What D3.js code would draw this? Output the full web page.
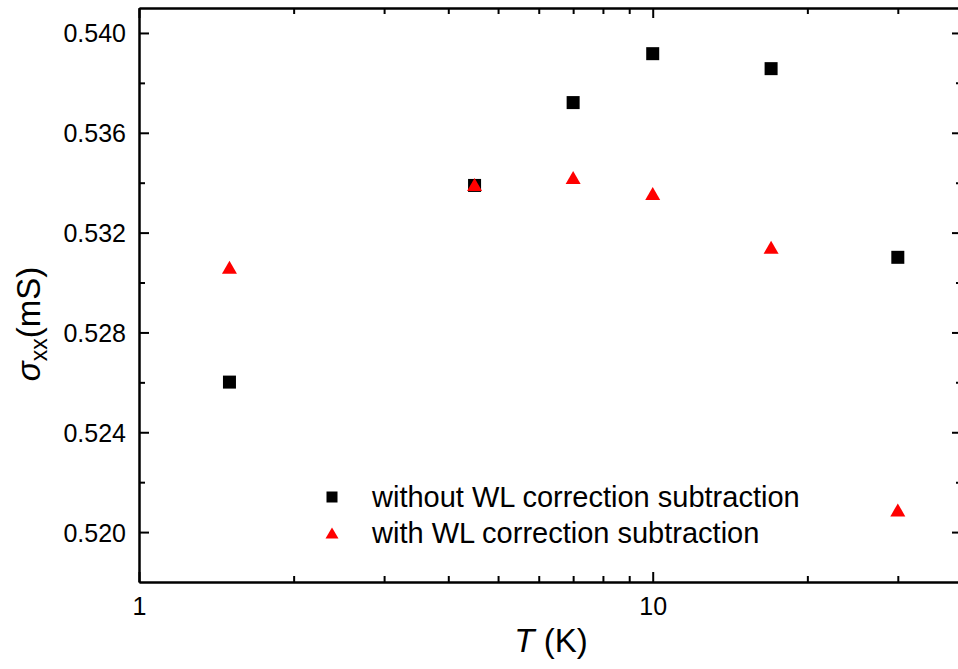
<!DOCTYPE html>
<html>
<head>
<meta charset="utf-8">
<script src="https://cdn.jsdelivr.net/npm/d3@7"></script>
<style>
  body { margin: 0; background: #fff; }
  svg { display: block; font-family: "Liberation Sans", Arial, sans-serif; }
  .axis path, .axis line { stroke: #000; stroke-width: 2; }
  .axis text { font-size: 25px; fill: #000; }
</style>
</head>
<body>
<div id="chart"></div>
<script>
// sigma_xx vs T, two series
const temps = [1.5, 4.5, 7, 10, 17, 30];
const withoutWL = [0.52601, 0.53389, 0.53721, 0.53917, 0.53857, 0.53101];
const withWL = [0.53061, 0.53393, 0.53421, 0.53357, 0.53141, 0.52089];
const seriesNames = ["without WL correction subtraction", "with WL correction subtraction"];
const xMajor = [1, 10];
const xMinor = [2, 3, 4, 5, 6, 7, 8, 9, 20, 30];
const yMajor = [0.520, 0.524, 0.528, 0.532, 0.536, 0.540];
const yMinor = [0.522, 0.526, 0.530, 0.534, 0.538];

(function() {
  const width = 958, height = 669;
  const margin = { top: 8, right: -4, bottom: 87, left: 139 };
  const innerWidth = width - margin.left - margin.right;
  const innerHeight = height - margin.top - margin.bottom;

  const svg = d3.select("#chart").append("svg")
    .attr("width", width)
    .attr("height", height);

  const g = svg.append("g")
    .attr("transform", `translate(${margin.left},${margin.top})`);

  const x = d3.scaleLog().domain([1, 40]).range([0, innerWidth]);
  const y = d3.scaleLinear().domain([0.518, 0.541]).range([innerHeight, 0]);

  // frame with inward ticks on all four sides
  function addAxis(axisFn, scale, values, size, fmt, transform, pad) {
    return g.append("g")
      .attr("class", "axis")
      .attr("transform", transform)
      .call(axisFn(scale).tickValues(values).tickSizeInner(size).tickSizeOuter(0)
        .tickPadding(pad || 3).tickFormat(fmt));
  }
  const none = () => "";

  const xAxis = addAxis(d3.axisBottom, x, xMajor, -10, d3.format("d"), `translate(0,${innerHeight})`, 14);
  xAxis.selectAll("text").attr("y", 33).attr("dy", null);
  addAxis(d3.axisBottom, x, xMinor, -6, none, `translate(0,${innerHeight})`);
  addAxis(d3.axisTop, x, xMajor, -10, none, "");
  addAxis(d3.axisTop, x, xMinor, -6, none, "");
  const yAxis = addAxis(d3.axisLeft, y, yMajor, -10, d3.format(".3f"), "", 13);
  yAxis.selectAll("text").attr("dy", "0.36em");
  addAxis(d3.axisLeft, y, yMinor, -6, none, "");
  addAxis(d3.axisRight, y, yMajor, -10, none, `translate(${innerWidth},0)`);
  addAxis(d3.axisRight, y, yMinor, -6, none, `translate(${innerWidth},0)`);

  // data
  const sq = 13;
  g.selectAll(".sq")
    .data(temps.map((t, i) => ({ t, v: withoutWL[i] })))
    .enter().append("rect")
    .attr("x", d => x(d.t) - sq / 2)
    .attr("y", d => y(d.v) - sq / 2)
    .attr("width", sq)
    .attr("height", sq)
    .attr("fill", "#000");

  const tri = (cx, cy, w, h) =>
    `M${cx},${cy - h / 2}L${cx + w / 2},${cy + h / 2}L${cx - w / 2},${cy + h / 2}Z`;

  g.selectAll(".tri")
    .data(temps.map((t, i) => ({ t, v: withWL[i] })))
    .enter().append("path")
    .attr("d", d => tri(x(d.t), y(d.v), 15, 13))
    .attr("fill", "#ff0000");

  // legend
  const lg = svg.append("g").attr("transform", "translate(332,497)");
  lg.append("rect").attr("x", -5.5).attr("y", -5.5).attr("width", 11).attr("height", 11).attr("fill", "#000");
  lg.append("path").attr("d", tri(0, 36, 13, 11)).attr("fill", "#ff0000");
  lg.selectAll("text")
    .data(seriesNames)
    .enter().append("text")
    .attr("x", 40)
    .attr("y", (d, i) => i * 36)
    .attr("dy", "0.36em")
    .attr("font-size", 29)
    .text(d => d);

  // axis titles
  const xt = svg.append("text")
    .attr("x", 551)
    .attr("y", 652)
    .attr("text-anchor", "middle")
    .attr("font-size", 33);
  xt.append("tspan").attr("font-style", "italic").text("T");
  xt.append("tspan").text(" (K)");

  const yt = svg.append("text")
    .attr("transform", "translate(40,324) rotate(-90)")
    .attr("text-anchor", "middle")
    .attr("font-size", 33);
  yt.append("tspan").attr("font-style", "italic").text("σ");
  yt.append("tspan").attr("font-size", 23).attr("dy", 7).text("xx");
  yt.append("tspan").attr("dy", -7).text("(mS)");
})();
</script>
</body>
</html>
